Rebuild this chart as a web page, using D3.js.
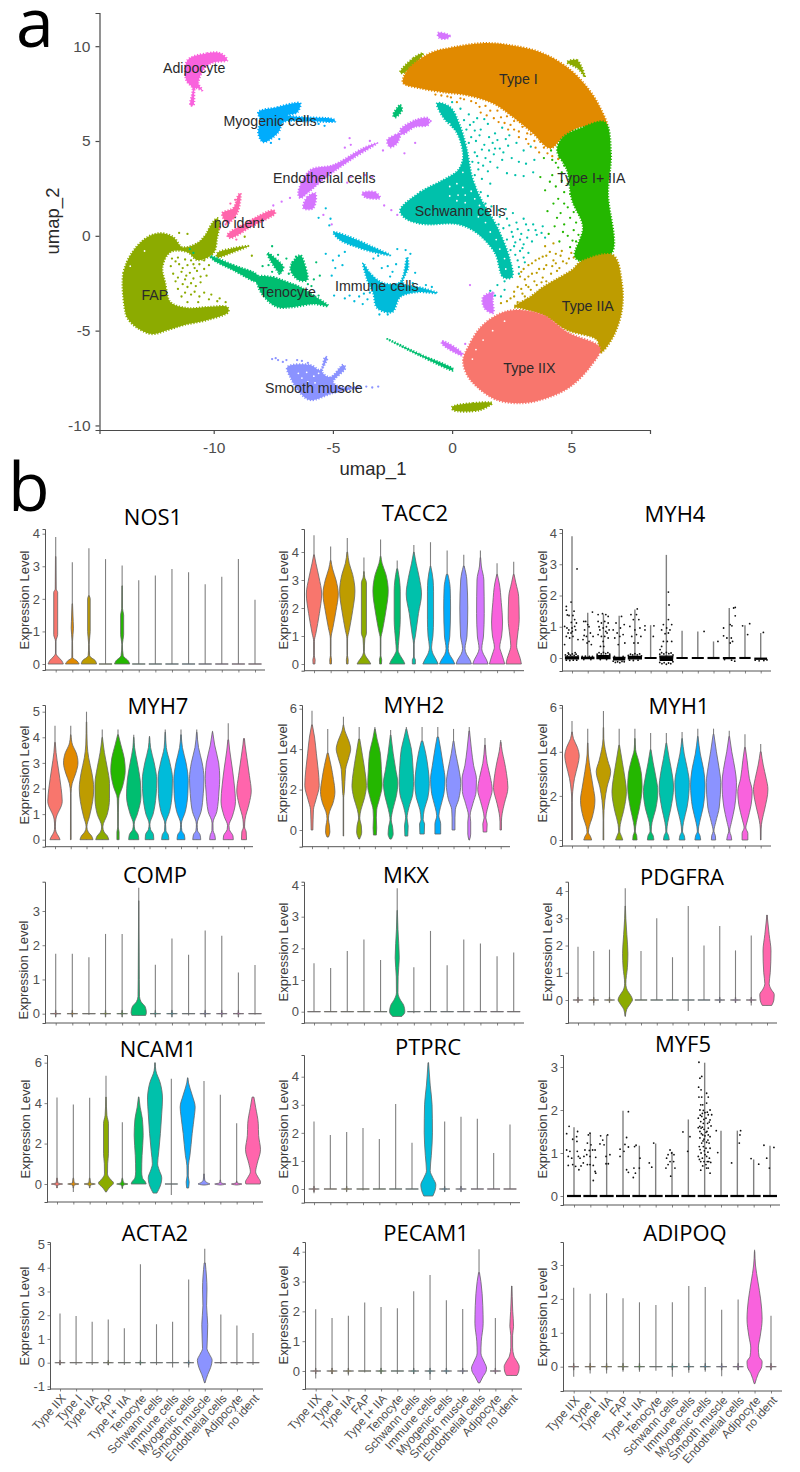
<!DOCTYPE html>
<html>
<head>
<meta charset="utf-8">
<script src="https://cdn.jsdelivr.net/npm/d3@7"></script>
<style>
  html, body { margin: 0; padding: 0; background: #fff; }
  svg { display: block; }
  text { font-family: "Liberation Sans", Arial, sans-serif; }
  .head { font-family: "Open Sans", sans-serif; fill: #000; }
</style>
</head>
<body>
<div id="chart"></div>
<script>
var cellTypes = ['Type IIX', 'Type I', 'Type IIA', 'FAP', 'Type I+ IIA', 'Tenocyte', 'Schwann cells',
  'Immune cells', 'Myogenic cells', 'Smooth muscle', 'Endothelial cells', 'Adipocyte', 'no ident'];
var cellColors = ['#F8766D', '#E18A00', '#BE9C00', '#8CAB00', '#24B700', '#00BE70', '#00C1AB',
  '#00BBDA', '#00ACFC', '#8B93FF', '#D575FE', '#F962DD', '#FF65AC'];

// umap cluster outlines, in umap units
var typeIIXShape = [[.46,-6.55],[.67,-5.87],[1.17,-4.86],[1.89,-4.18],[2.56,-3.92],[3.81,-4.18],[4.82,-5.08],[6.2,-5.92],[5.78,-6.92],[4.94,-7.97],[3.98,-8.55],[2.97,-8.82],[1.89,-8.66],[1.05,-7.97],[.63,-7.34]];
var typeIShape = [[-2.05,8.31],[-1.76,8.89],[-.92,9.63],[.04,9.94],[1.3,10.16],[2.43,10.05],[3.69,9.68],[4.82,8.89],[5.66,7.84],[6.2,6.78],[6.49,5.73],[6.08,5.68],[5.36,5.73],[4.65,5.2],[4.11,4.62],[3.39,5.41],[2.56,6.26],[1.72,6.99],[.63,7.41],[-.38,7.57],[-1.34,7.78],[-2.05,8.05]];
var typeIIAShape = [[5.36,-1.39],[6.75,-1.02],[7.12,-2.49],[7.12,-3.92],[6.75,-5.34],[6.2,-6.18],[6.08,-5.5],[4.82,-4.97],[3.81,-4.18],[2.85,-3.81],[2.6,-3.75],[3.3,-3.2],[3.83,-2.69],[4.5,-2.2],[5.08,-1.75]];
var mixedShape = [[5.49,5.73],[6.41,5.99],[6.66,4.36],[6.54,2.25],[6.7,-.91],[5.66,-1.39],[5.15,-1.12],[5.49,.46],[5.03,1.88],[4.82,3.46],[4.4,4.52],[4.65,5.2]];
var fapShape = [[-13.74,-3.76],[-13.79,-1.97],[-13.41,-.86],[-12.78,-.07],[-12.23,.14],[-11.69,-.07],[-11.31,-.6],[-10.68,-.38],[-10.35,.04],[-10.06,.67],[-9.85,.93],[-9.76,.67],[-9.85,-.07],[-10.01,-.91],[-10.68,-1.28],[-11.1,-.86],[-11.82,-.86],[-12.15,-1.65],[-12.03,-2.49],[-11.82,-3.49],[-11.1,-3.81],[-10.27,-3.76],[-9.43,-3.76],[-9.39,-4.02],[-10.27,-4.44],[-11.27,-4.71],[-11.94,-4.97],[-12.57,-5.18],[-13.2,-4.86],[-13.62,-4.34]];
var fapArm = [[-9.85,-.91],[-9.18,-.65],[-8.55,-.54],[-9.18,-.86],[-9.85,-1.12]];
var fapFoot = [[0,-9.03],[.88,-8.82],[1.68,-8.82],[1.17,-9.19],[.04,-9.19]];
var fapTopLeft = [[-2.18,8.63],[-1.63,9.37],[-1.22,9.63],[-1.47,9.16],[-2.05,8.58]];
var fapTopRight = [[4.82,9.16],[5.24,9.26],[5.57,8.37],[5.3,8.8]];
var tenocyteBody = [[-8.17,-2.18],[-7.5,-2.18],[-6.91,-2.44],[-6.37,-2.7],[-5.82,-3.13],[-5.2,-3.7],[-5.82,-3.6],[-6.66,-3.76],[-7.33,-3.76],[-7.84,-3.28],[-8.13,-2.7]];
var tenocyteTail = [[-10.14,-1.07],[-9.18,-1.54],[-8.17,-2.07],[-8.13,-2.44],[-9.18,-1.81],[-10.06,-1.23]];
var tenocyteRightArc = [[-6.37,-1.02],[-6.15,-1.65],[-6.08,-2.33],[-6.45,-2.33],[-6.79,-1.7]];
var tenocyteLeftArc = [[-7.75,-.91],[-7.08,-1.65],[-7.21,-1.96],[-7.63,-1.28]];
var tenocyteStrand = [[-2.72,-5.44],[-1.34,-6.25],[.04,-7.02],[.04,-7.1],[-1.34,-6.33]];
var tenocyteSmall = [[-2.47,6.36],[-2.18,6.89],[-2.1,6.63],[-2.39,6.25]];
var schwannShape = [[-2.18,1.35],[-1.34,2.3],[-.38,2.94],[.25,3.46],[.46,4.15],[.21,5.41],[-.38,6.26],[-.63,6.99],[-.08,6.78],[.3,5.9],[.6,4.67],[.84,3.09],[1.17,2.04],[1.89,.46],[2.43,-1.28],[2.51,-2.18],[2.14,-2.18],[1.8,-.91],[1.05,.14],[.21,.62],[-1.22,.62],[-1.97,.93]];
var immuneBody = [[-3.73,-1.44],[-3.44,-1.97],[-2.89,-2.49],[-2.18,-2.44],[-1.89,-1.12],[-1.84,-1.65],[-2.05,-2.49],[-1.22,-2.76],[-.63,-3.02],[-1.47,-2.97],[-2.18,-3.23],[-2.51,-4.02],[-3.14,-3.81],[-3.31,-3.02],[-3.56,-2.33]];
var immuneUpper = [[-4.99,.19],[-4.27,-.07],[-3.31,-.6],[-2.6,-1.02],[-3.14,-.91],[-3.98,-.6],[-4.69,-.23]];
var myogenicShape = [[-8.13,6.52],[-7.33,6.78],[-6.66,6.99],[-6.37,6.99],[-6.49,6.52],[-6.91,6.36],[-6.37,6.26],[-4.99,6.15],[-4.9,6.04],[-6.08,6.04],[-7.08,5.99],[-7.29,5.46],[-7.92,4.94],[-8.13,5.41],[-8.04,6.1]];
var smoothShape = [[-6.91,-6.92],[-5.95,-6.81],[-5.53,-7.08],[-5.32,-6.39],[-5.24,-6.45],[-5.45,-7.18],[-5.11,-7.45],[-4.57,-6.81],[-4.48,-6.97],[-4.99,-7.71],[-4.69,-7.97],[-3.85,-7.97],[-4.99,-8.29],[-5.95,-8.66],[-6.37,-8.29],[-6.79,-7.45]];
var endoBand = [[-6.45,2.3],[-5.95,3.46],[-4.99,3.73],[-3.73,4.62],[-3.14,4.89],[-4.15,4.09],[-4.99,3.36],[-5.53,2.83],[-6.03,2.3],[-6.37,1.99]];
var endoBlob = [[-6.24,1.46],[-6.08,2.04],[-5.74,2.25],[-5.82,1.46]];
var endoRight = [[-3.77,2.25],[-3.23,2.3],[-3.02,1.99],[-3.65,2.04]];
var endoUpper = [[-2.72,5.04],[-2.39,5.31],[-2.18,5.41],[-2.3,4.89],[-2.6,4.67]];
var endoNearType = [[-2.18,5.57],[-1.55,6.1],[-1,6.2],[-1,5.85],[-1.55,5.75],[-2.1,5.35]];
var endoLower = [[1.3,-3.23],[1.72,-3],[1.7,-3.4],[1.72,-4.07],[1.35,-3.8]];
var endoStrand = [[-.42,-5.55],[.42,-6.18],[.42,-6.3],[-.42,-5.7]];
var endoTop = [[-.59,10.7],[-.1,10.55],[-.2,10.4],[-.55,10.45]];
var adipoShape = [[-11.1,9.26],[-10.27,9.63],[-9.72,9.63],[-9.43,9.26],[-10.01,9.15],[-10.35,8.89],[-10.64,8.05],[-10.48,7.68],[-10.77,7.78],[-10.85,6.89],[-10.98,6.89],[-10.89,7.78],[-11.15,8.2]];
var noIdentLower = [[-9.43,.04],[-8.59,.72],[-7.5,1.35],[-7.42,1.2],[-8.46,.46],[-9.3,-.12]];
var noIdentUpper = [[-9.64,1.2],[-9.18,1.46],[-8.97,2.14],[-8.88,2.25],[-9.01,1.2],[-9.43,.67]];

// scattered cells outside the solid clusters
var schwannDots = [[.9,6],[1.2,5.6],[1.5,5.9],[1.8,5.4],[2.1,5.7],[2.4,5.3],[1,5],[1.35,4.8],[1.7,4.9],[2,4.6],[2.35,4.75],[2.7,4.9],[3,4.5],[3.3,4.7],[1.05,4.2],[1.4,4.1],[1.75,4.3],[2.1,4],[2.5,4.1],[2.8,3.9],[3.1,3.8],[3.45,4],[1.1,3.5],[1.5,3.4],[1.9,3.6],[2.3,3.3],[2.65,3.2],[3,3.15],[3.4,3.35],[1.25,3],[1.6,2.75],[1.2,2.3],[1.5,2.1],[.95,2.6],[.65,2.8],[.4,2.4],[.1,2.2],[.7,1.8],[-.1,1.6],[.35,1.5],[.9,1.4],[2,1],[2.3,.9],[2.7,.7],[3,.9],[3.4,.6],[3.8,.5],[2.15,.4],[2.5,.2],[2.9,.1],[3.2,.3],[3.55,.05],[3.9,-.1],[2.3,-.2],[2.65,-.35],[3,-.45],[3.35,-.3],[2.85,-.8],[2.45,-.75],[3.2,-.9],[2.75,-1.3],[3.05,-1.4],[2.5,-1.9],[2.8,-2],[1.9,-2.6],[2.2,-2.85],[1.6,-2.9],[2.05,-3.2],[.95,4.4],[.7,6.4],[0,7.05],[.35,6.7],
  [.6,5.6],[.8,5.2],[.7,4.9],[1.15,5.3],[.95,5.55],[1.25,4.55],[1.55,4.5],[.85,3.9],[1.1,3.85],[.95,3.2],[1.3,3.7],[1.6,3.9],[1.55,5.2],[1.9,5.05],[2.25,5.1],[1.8,4.6],[2.15,4.4],[.5,6.1],[.75,5.85],[1.05,6.2],[1.35,6.15],[1.95,1.35],[2.25,1.4],[1.65,1.55],[1.4,1.7],[2.55,1.2],[1.95,.6],[2.4,.55],[2.75,.35],[3.1,.6],[3.5,.3],[3.75,.15],[2.55,-.05],[2.85,-.2],[3.15,-.1],[2.6,-.55],[2.95,-.65],[2.65,-1],[3,-1.15],[2.45,-1.55],[2.8,-1.65],[2.2,-2.4],[1.8,-3.15]];
var goldDots = [[2.9,-1.9],[3.2,-1.55],[3.5,-1.3],[3.8,-1.1],[4.1,-.85],[3.05,-2.3],[3.35,-2],[3.65,-1.75],[3.95,-1.55],[4.25,-1.3],[4.55,-1.05],[2.75,-2.7],[3.1,-2.6],[3.45,-2.4],[3.8,-2.2],[4.15,-2],[4.5,-1.7],[4.8,-1.45],[2.6,-3.2],[2.95,-3.05],[3.3,-2.85],[2.3,-3.45],[2.75,-3.5],[3.15,-3.35],[4.6,-.8],[5,-.9],[4.25,-.4],[3.9,-.55],
  [3,-1.75],[3.35,-1.45],[3.65,-1.2],[3.95,-1.05],[4.35,-.95],[2.85,-2.15],[3.2,-2.15],[3.55,-1.95],[3.85,-1.75],[4.2,-1.6],[4.65,-1.35],[2.6,-2.95],[2.9,-2.8],[3.2,-2.7],[3.55,-2.6],[3.95,-2.4],[4.35,-1.45],[2.45,-3.3],[2.05,-3.55],[4.9,-1.2],[5.1,-1.15],[4.4,-1.85],[3.75,-2.45],[3.05,-3.2]];
var orangeDots = [[1,7],[1.4,6.85],[1.9,6.6],[2.3,6.3],[2.6,6.05],[2.95,5.75],[3.3,5.35],[3.7,4.95],[4,4.35],[.5,7.2],[1.2,6.5],[1.75,6.2],[2.2,5.95],[2.6,5.6],[3.1,5.1],[3.5,4.65],[-.2,7.35],[-.7,7.45],[4.45,4.05],[.2,7.05],
  [.8,7.1],[1.15,6.8],[1.6,6.6],[2.05,6.25],[2.45,5.85],[2.8,5.5],[3.15,5.4],[3.45,5],[3.85,4.65],[.35,7.25],[-.05,7.3],[-.45,7.4],[1.45,6.35],[1.95,6],[2.35,5.6],[2.8,5.2],[3.2,4.85],[3.65,4.4],[4.2,4.2]];
var greenDots = [[4.2,4],[4.45,3.6],[4.2,3.2],[4.6,2.9],[4.35,2.6],[4.7,2.3],[4.45,1.95],[4.85,1.5],[4.55,1.2],[4.95,.95],[4.7,.6],[5.1,.3],[4.85,0],[5.2,-.3],[4.95,-.6],[3.9,2.4],[4,1.3],[4.3,.5],[4.05,.1],[4.5,-.3],[3.7,3.1],[3.85,4.1],[4.15,4.5],
  [4.5,4.15],[4.7,3.7],[4.6,3.35],[4.85,2.75],[4.95,2.2],[4.7,1.7],[5.1,1.25],[5.2,.7],[5.3,.05],[5.05,-.25],[4.65,.2],[4.4,.95],[4.25,1.7],[4.1,2.85],[4.35,3.85]];
var fapDots = [[-11.75,-1.2],[-11.5,-1.15],[-11.2,-1.25],[-11.8,-1.6],[-11.45,-1.5],[-11.1,-1.55],[-10.85,-1.5],[-11.7,-2],[-11.35,-1.9],[-11,-1.95],[-10.7,-1.85],[-11.6,-2.4],[-11.2,-2.3],[-10.85,-2.25],[-10.55,-2.15],[-11.5,-2.8],[-11.1,-2.7],[-10.75,-2.65],[-11.35,-3.2],[-10.95,-3.1],[-10.6,-3.2],[-10.2,-3.35],[-9.85,-3.45],[-11.1,-3.5],[-10.65,-3.5],[-8.7,-.05],[-8.4,-1.05],[-11.45,.15],[-11.1,.1],
  [-11.6,-1.35],[-11.3,-1.7],[-10.95,-1.3],[-10.6,-1.5],[-11.5,-2.2],[-11.15,-2.1],[-10.8,-1.7],[-10.4,-1.75],[-11.3,-2.55],[-10.95,-2.5],[-10.55,-2.45],[-10.3,-2.1],[-11.2,-3],[-10.8,-2.95],[-10.4,-3],[-10.1,-3.1],[-9.75,-3.3],[-9.5,-3.5],[-10.4,-1.3],[-10.2,-1.55],[-10.5,-1.1]];
var tenocyteDots = [[-7.55,-.55],[-7.3,-1],[-6.95,-1.2],[-6.85,-2],[-6.55,-1.1],[-5.7,-1.4],[-5.55,-2.1],[-5.8,-2.3],[-7.95,-1.6],[-7.7,-1.55],[-11,-.7],[-10.85,-.9],[-7.6,-1],[-7.45,-1.4],[-6.7,-1.4],[-6.6,-2],[-7.25,-2],[-7.55,-1.9],[-5.9,-2.65],[-6.05,-2.55],[-5.6,-3.15]];
var immuneDots = [[-5.3,-.95],[-5,-1.3],[-4.75,-1.05],[-4.5,-.85],[-4.9,-1.7],[-5.05,-2.1],[-4.95,-3.15],[-4.5,-3.3],[-4.1,-3.45],[-3.75,-3.6],[-3.1,-1.05],[-2.7,-1.6],[-2.3,-.7],[-1.95,-.75],[-1.55,-1.95],[-5.1,.9],[-5.3,1.45],[-5.6,.95],[-5.15,.55],[-4.6,-1.55],
  [-4.3,-3.15],[-3.9,-3.2],[-3.55,-3.35],[-3.45,-3],[-2.95,-1.7],[-2.5,-1.9],[-2.35,-1.5],[-2.6,-2.15],[-1.75,-.95],[-3.3,-1.2],[-1.1,-2.6],[-.85,-2.7],[-1.65,-2.5],[-3.7,-3.05],[-3.05,-4.15],[-2.7,-4.15]];
var myogenicDots = [[-7.6,4.9],[-7.25,5.1],[-5.35,5.8],[-5.6,5.9]];
var smoothDots = [[-7.55,-6.5],[-7.3,-6.55],[-7.1,-6.65],[-7.4,-6.45],[-6.95,-6.55],[-6.3,-6.6],[-6.05,-6.7],[-6.65,-7.7],[-6.5,-6.55],[-3.6,-7.95],[-3.35,-8],[-3.1,-7.95],[-5.65,-7.6]];
var endoDots = [[-5.4,1.1],[-5.05,.6],[-7.5,1.6],[-7.15,1.8],[-6.8,2],[-4.5,4.65],[-4.3,5.15],[-4.25,4.8],[-3.65,3.2],[-3.35,3.1],[-4.25,3.1],[-3.9,2.8],[-4.4,2.8],[-2.85,1.6],[-2.55,1.35],[-2.3,1.1],[-3.45,5],[-2.9,4.5],[-1.55,4.9],[-2,4.35],[-.9,6.05],[.75,-2.6],[.55,-5.7]];
var noIdentDots = [[-9.05,-.2],[-8.85,.3],[-9.75,.4],[-9.5,.6],[-9.3,1.7],[-9.1,1.9]];
// little gaps left in the dense parts
var gapDots = [[-.1,2.6],[.2,2.75],[.45,2.55],[.25,2.15],[.55,2.15],[.8,2.35],[.55,1.75],[.95,1.95],[1.15,1.6],[.2,1.85],[-.1,2.1],
  [-.1,5.9],[.05,5.5],[-.2,5.2],[.15,5.05],[-.1,4.7],[.25,4.45],[0,4.2],[-.3,5.65],[.1,3.85],[.45,3.35],[1.1,1],[1.4,.7],[1.6,.2],[1.85,-.2],[2,-.7],[2.2,-1.2],[2.25,-1.75],
  [-6.1,-7.2],[-5.8,-7.4],[-6.3,-7.5],[-5.6,-7.25],[-6.05,-7.7],[-5.75,-7.75],[-6.45,-7.25],
  [1.3,-5.5],[1,-6],[1.7,-5],[.85,-6.5],[2.2,-4.5],
  [-13.5,-1.6],[-12.9,-.8],[-8.35,-4.5]];

// expression levels, one list per gene, order of cellTypes
var flatZero = [[-0.004,.84],[0.004,.84]];
var crossZero = [[-.1,.02],[-.01,.04],[0,.7],[.01,.04],[.1,.02]];

var nos1Top = [3.9,3.12,3.55,3.22,3.02,2.57,2.72,2.92,2.82,2.45,2.68,3.22,1.97];
var nos1Bottom = [0,0,0,0,0,0,0,0,0,0,0,0,0];
var nos1Violins = [
  [[0,1],[.1,.8],[.25,.2],[.33,.03],[.7,.03],[.9,.26],[2.2,.26],[2.3,.06],[3.3,.03]],
  [[0,.9],[.1,.6],[.2,.05],[.7,.03],[1.1,.15],[1.3,.12],[1.85,.03]],
  [[0,1],[.1,.85],[.25,.1],[.6,.03],[1,.17],[2,.17],[2.1,.03]],
  flatZero,
  [[0,1],[.1,.8],[.25,.15],[.6,.03],[.9,.2],[1.5,.2],[1.7,.05],[2.4,.03]],
  flatZero, flatZero, flatZero, flatZero, flatZero, flatZero, flatZero, flatZero
];

var tacc2Top = [4.6,4.2,4.5,3.8,4.45,3.7,4.25,4.35,4.05,3.9,4.05,3.6,3.65];
var tacc2Bottom = [0,0,0,0,0,0,0,0,0,0,0,0,0];
var tacc2Violins = [
  [[0,.12],[.15,.15],[.3,.03],[.8,.04],[1.1,.25],[1.8,.7],[2.5,1],[3.1,.65],[3.6,.25],[3.9,.04]],
  [[0,.1],[.15,.12],[.3,.03],[.9,.04],[1.3,.3],[1.9,.7],[2.5,1],[3,.7],[3.4,.25],[3.7,.04]],
  [[0,.1],[.15,.12],[.3,.03],[.9,.04],[1.2,.25],[1.9,.7],[2.6,1],[3.2,.7],[3.6,.25],[4,.04]],
  [[0,.9],[.1,.7],[.25,.3],[.45,.05],[.9,.12],[1.1,.33],[2.9,.33],[3.1,.1],[3.3,.03]],
  [[0,.12],[.15,.15],[.3,.03],[.9,.04],[1.2,.25],[1.9,.7],[2.6,1],[3.2,.7],[3.6,.2],[3.85,.04]],
  [[0,1],[.1,.85],[.3,.4],[.5,.12],[.8,.2],[1.6,.4],[2.6,.4],[3,.3],[3.4,.06]],
  [[0,.2],[.15,.2],[.25,.03],[.7,.03],[1,.2],[1.8,.6],[2.5,1],[3.1,.7],[3.6,.3],[4,.03]],
  [[0,1],[.15,.75],[.35,.35],[.6,.14],[1,.32],[1.6,.4],[2.6,.4],[3,.34],[3.5,.03]],
  [[0,1],[.15,.75],[.35,.3],[.55,.14],[1,.35],[2,.45],[2.7,.4],[3.2,.1]],
  [[0,1],[.15,.8],[.35,.35],[.55,.16],[1,.42],[2,.52],[3,.4],[3.5,.05]],
  [[0,1],[.15,.8],[.35,.4],[.55,.18],[1,.4],[1.8,.5],[3,.45],[3.5,.12],[3.8,.03]],
  [[0,1],[.15,.85],[.4,.55],[.6,.35],[1,.6],[1.5,.72],[2.2,.55],[2.9,.28],[3.2,.04]],
  [[0,1],[.2,.85],[.4,.6],[.65,.38],[1,.5],[1.6,.72],[2.4,.65],[2.9,.28],[3.2,.05]]
];

var myh4Top = [3.9,1.45,1.4,1.35,1.55,1.05,3.3,.87,.85,.53,1.6,1.05,.8];
var myh4Bottom = [0,0,0,0,0,0,0,0,0,0,0,0,0];
var myh4Violins = [
  [[-.03,.9],[.04,.9]], [[-.02,.85],[.02,.85]], [[-.02,.9],[.08,.9]], [[-.06,.75],[.02,.8]],
  [[-.03,.9],[.05,.9]], [[-.012,.75],[.012,.75]], [[-.08,.85],[.06,.9]], [[-.012,.7],[.012,.7]],
  [[-.012,.75],[.012,.75]], [[-.015,.75],[.015,.75]], [[-.02,.8],[.012,.8]], [[-.012,.7],[.015,.7]], [[-.04,.8],[-.005,.8]]
];
// [cell type index, jitter in category widths, level]
var myh4Points = [
  [0,-.36,1.65],[0,-.36,1.53],[0,-.06,1.79],[0,-.3,1.38],[0,-.19,1.36],[0,.06,1.36],[0,.13,1.5],[0,.17,1.23],[0,-.04,1.14],[0,-.47,1.01],[0,-.32,.96],[0,-.2,.9],[0,0,.96],[0,.17,1.01],[0,.28,1.12],[0,-.25,.8],[0,-.06,.8],[0,.06,.69],[0,-.15,.64],[0,-.47,.43],[0,.32,2.85],[0,.23,.9],[0,.38,.59],[0,-.36,.69],[0,.02,.85],
  [1,-.25,1.17],[1,.3,1.47],[1,0,1.07],[1,-.2,.9],[1,.17,.8],[1,-.08,.69],[1,-.3,.59],[1,.08,.53],[1,.23,.43],[1,-.13,1.17],[1,.34,.69],[1,-.04,.48],[1,-.23,.72],[1,.08,1],
  [2,-.34,1.39],[2,-.06,1.42],[2,.15,1.39],[2,.3,1.33],[2,-.34,1.17],[2,-.13,1.12],[2,.08,1.17],[2,.3,1.12],[2,-.23,.9],[2,-.02,.96],[2,.15,.85],[2,.36,.9],[2,-.34,.75],[2,-.13,.69],[2,.08,.69],[2,.23,.8],[2,-.02,.53],[2,-.19,.37],[2,.3,.64],[2,.02,.37],[2,-.28,1],[2,.19,1],
  [3,-.2,1.12],[3,.15,1.33],[3,.32,1.07],[3,-.13,.8],[3,-.38,.9],[3,.04,.69],[3,.25,.75],[3,-.28,.64],[3,.36,.48],[3,-.06,.43],[3,.08,.96],
  [4,.15,1.57],[4,-.25,1.39],[4,.1,1.39],[4,-.1,1.23],[4,.25,1.23],[4,-.32,1.01],[4,0,.9],[4,.32,.96],[4,.64,1.03],[4,-.2,.69],[4,.1,.75],[4,.38,.69],[4,-.06,.48],[4,.2,.48],[4,.64,.9],
  [5,.21,1.03],[5,.17,.69],
  [6,.13,2.11],[6,.17,1.7],[6,.13,1.23],[6,-.19,1.07],[6,.34,1.07],[6,.02,.96],[6,-.3,.9],[6,.23,.9],[6,-.08,.78],[6,.13,.8],[6,-.19,.53],[6,.06,.53],[6,.34,.53],[6,-.3,.37],[6,-.4,.27],
  [8,.4,.85],[9,.28,.53],
  [10,-.36,.96],[10,.06,1.07],[10,.17,1.03],[10,.28,1.6],[10,.38,1.62],[10,.38,1.35],[10,-.36,.71],[10,-.15,.64],[10,.13,.64],[10,.21,.53],[10,.06,.48],
  [11,-.15,1.03],[11,.3,1.1],[11,.17,.75],[12,.17,.82],
  // the ragged band around zero
  [0,-.42,.1],[0,-.3,.07],[0,-.2,.12],[0,-.1,.09],[0,.02,.13],[0,.14,.08],[0,.26,.12],[0,.38,.07],[0,-.36,-.07],[0,-.14,-.08],[0,.08,-.07],[0,.3,-.07],[0,-.24,.16],[0,.2,.17],
  [1,-.35,.05],[1,-.15,.06],[1,.1,.05],[1,.3,.05],[1,-.25,-.05],[1,.2,-.05],
  [2,-.4,.12],[2,-.28,.17],[2,-.14,.13],[2,0,.18],[2,.14,.14],[2,.28,.17],[2,.4,.12],[2,-.34,.07],[2,.34,.07],[2,-.2,-.05],[2,.2,-.05],
  [3,-.38,-.1],[3,-.24,-.14],[3,-.1,-.12],[3,.04,-.15],[3,.18,-.11],[3,.32,-.12],[3,-.3,.05],[3,.25,.05],
  [4,-.42,.08],[4,-.28,.12],[4,-.14,.1],[4,0,.14],[4,.15,.1],[4,.3,.13],[4,.42,.07],[4,-.34,-.07],[4,-.1,-.08],[4,.2,-.07],
  [6,-.42,.12],[6,-.3,.17],[6,-.16,.13],[6,0,.18],[6,.16,.14],[6,.3,.16],[6,.42,.1],[6,-.42,-.14],[6,-.28,-.18],[6,-.14,-.15],[6,0,-.2],[6,.14,-.16],[6,.28,-.18],[6,.42,-.12],
  [10,-.3,-.05],[10,.15,-.07],[10,.35,-.1],[12,-.35,-.07],[12,-.1,-.09],[12,.2,-.08],[12,.4,-.06]
];

var myh7Top = [4.45,4.45,5,4.3,4.3,4.1,4.05,4.3,4.3,4.3,4.25,4.55,3.95];
var myh7Bottom = [0,0,0,0,0,0,0,0,0,0,0,0,0];
var myh7Violins = [
  [[0,.7],[.1,.55],[.3,.15],[.5,.05],[.8,.12],[1.5,1],[2,.85],[2.8,.45],[3.4,.15],[3.8,.04]],
  [[0,.04],[.1,.04],[1.8,.03],[2.2,.2],[2.6,.7],[3,1],[3.4,.75],[3.7,.25],[4.1,.03]],
  [[0,.9],[.15,.7],[.3,.25],[.5,.05],[.9,.4],[1.5,.85],[2,1],[2.6,.75],[3.2,.3],[3.7,.1],[4.6,.03]],
  [[0,.9],[.15,.7],[.3,.25],[.5,.08],[1,.7],[1.6,1],[2.2,1],[2.8,.7],[3.4,.3],[4,.03]],
  [[0,.15],[.3,.15],[.5,.03],[1.6,.1],[2.1,.65],[2.7,1],[3.2,.85],[3.7,.4],[4.1,.05]],
  [[0,.7],[.2,.6],[.4,.15],[.6,.05],[1,.5],[1.7,1],[2.3,.9],[3,.5],[3.6,.12],[4,.03]],
  [[0,.6],[.2,.55],[.4,.15],[.6,.05],[1,.5],[1.7,.9],[2.3,1],[3,.65],[3.6,.15],[4,.03]],
  [[0,.5],[.2,.4],[.35,.1],[.6,.05],[1.1,.6],[1.8,.95],[2.4,1],[3,.65],[3.6,.15],[4.2,.03]],
  [[0,.55],[.2,.45],[.35,.12],[.6,.05],[1.1,.6],[1.8,.95],[2.3,1],[3,.7],[3.6,.2],[4.1,.03]],
  [[0,.55],[.2,.45],[.35,.12],[.6,.05],[1.1,.6],[1.8,.9],[2.4,1],[3,.75],[3.6,.25],[4.2,.03]],
  [[0,.4],[.2,.3],[.35,.08],[.65,.06],[1.1,.6],[1.9,.9],[2.4,1],[3,.85],[3.7,.3],[4.2,.03]],
  [[0,.7],[.15,.65],[.4,.15],[.55,.1],[.9,.55],[1.5,1],[2.1,.85],[2.8,.55],[3.5,.2],[3.9,.05]],
  [[0,.35],[.3,.3],[.5,.08],[.8,.15],[1.4,.7],[1.9,1],[2.5,.75],[3.2,.4],[3.7,.15],[3.95,.06]]
];

var myh2Top = [5.9,5,5.6,5.1,5.1,4.95,5.1,5.1,5.1,5,5.1,4.55,4.45];
var myh2Bottom = [0,-.35,-.3,-.45,-.25,-.45,-.3,-.2,-.2,0,-.5,-.1,0];
var myh2Violins = [
  [[0,.12],[.5,.15],[1,.2],[1.5,.55],[2.2,1],[3,.85],[3.8,.6],[4.6,.35],[5.2,.05]],
  [[-.35,.1],[-.1,.3],[.2,.25],[.55,.1],[.9,.25],[1.3,.7],[1.9,1],[2.5,.8],[3.2,.45],[3.8,.08]],
  [[-.3,.03],[1.6,.03],[1.8,.1],[3,.3],[3.6,.75],[4,1],[4.4,.75],[4.9,.2],[5.2,.03]],
  [[-.45,.05],[-.1,.35],[.2,.3],[.6,.08],[1,.25],[1.6,.75],[2.2,1],[2.9,.8],[3.7,.45],[4.5,.08]],
  [[-.25,.2],[.1,.25],[.6,.2],[1,.25],[1.5,.6],[2.2,1],[3,.9],[3.8,.75],[4.5,.3],[5,.04]],
  [[-.45,.1],[-.2,.35],[.2,.25],[.5,.08],[1,.3],[1.7,.8],[2.3,1],[3,.7],[3.8,.35],[4.7,.04]],
  [[-.3,.2],[.2,.25],[.6,.1],[1.1,.35],[1.8,.9],[2.4,1],[3.2,.9],[4,.7],[4.6,.3],[5,.05]],
  [[-.2,.3],[.3,.35],[.5,.15],[1,.3],[1.6,.8],[2.3,1],[3,.85],[3.8,.5],[4.4,.1]],
  [[-.2,.4],[.3,.4],[.7,.15],[1.1,.35],[1.8,.85],[2.5,1],[3.2,.75],[4,.4],[4.6,.1]],
  [[0,.2],[.6,.2],[1,.25],[1.5,.7],[2.3,1],[3,.75],[3.8,.3],[4.4,.05]],
  [[-.5,.03],[-.2,.2],[.4,.2],[.7,.12],[1.3,.5],[1.9,.95],[2.5,1],[3.2,.6],[4,.3],[4.9,.04]],
  [[-.1,.25],[.3,.3],[.6,.12],[1,.3],[1.4,.6],[2,1],[2.6,.75],[3.3,.3],[4.2,.05]],
  [[0,.1],[.4,.1],[.8,.2],[1.3,.5],[2.1,1],[2.8,.8],[3.4,.5],[3.9,.2],[4.35,.04]]
];

var myh1Top = [5.4,5.05,5.85,5.05,5.05,4.85,4.85,4.9,5.05,5.05,4.95,4.8,4.35];
var myh1Bottom = [0,0,0,0,0,0,0,0,0,0,0,0,0];
var myh1Violins = [
  [[0,.02],[1.7,.02],[2.2,.1],[2.8,.35],[3.4,.8],[3.8,1],[4.2,.75],[4.6,.2],[4.9,.04]],
  [[0,.55],[.15,.4],[.35,.1],[.6,.2],[1,.6],[1.8,1],[2.4,.75],[3.1,.4],[3.9,.08],[4.4,.03]],
  [[0,.05],[.9,.04],[1.8,.2],[2.4,.5],[3.1,1],[3.6,.6],[4.1,.25],[4.6,.05],[5.1,.03]],
  [[0,.5],[.15,.35],[.4,.08],[.7,.15],[1.3,.6],[2.2,1],[2.8,.8],[3.5,.45],[4.3,.05]],
  [[0,.3],[.2,.25],[.4,.05],[.8,.2],[1.4,.6],[2.4,1],[3,.9],[3.6,.5],[4.1,.1],[4.6,.03]],
  [[0,.45],[.2,.35],[.4,.08],[.8,.2],[1.4,.7],[2.2,1],[2.9,.7],[3.5,.35],[4.1,.05]],
  [[0,.4],[.2,.3],[.4,.06],[.8,.2],[1.4,.6],[2.4,1],[3,.8],[3.7,.4],[4.4,.04]],
  [[0,.4],[.2,.3],[.4,.06],[.8,.2],[1.5,.7],[2.6,1],[3.2,.75],[3.9,.3],[4.6,.03]],
  [[0,.4],[.2,.3],[.4,.06],[.8,.25],[1.5,.75],[2.5,1],[3.2,.8],[3.9,.35],[4.7,.03]],
  [[0,.3],[.2,.25],[.4,.05],[.8,.3],[1.5,.8],[2.6,1],[3.3,.75],[4,.4],[4.8,.05]],
  [[0,.35],[.2,.25],[.4,.06],[.8,.3],[1.5,.75],[2.6,1],[3.2,.8],[4,.35],[4.7,.04]],
  [[0,.4],[.3,.4],[.55,.12],[.9,.35],[1.6,.85],[2.2,1],[2.8,.6],[3.6,.3],[4.2,.05]],
  [[0,.03],[.5,.05],[.9,.2],[1.4,.55],[2.3,1],[2.8,.75],[3.4,.35],[4,.06]]
];

var compTop = [1.75,1.75,1.65,2.33,2.33,3.68,1.43,2.2,1.72,2.43,2.28,1.2,1.42];
var compBottom = [-.05,-.05,-.03,-.05,-.03,-.05,-.03,-.03,-.05,-.03,-.03,-.03,-.02];
var compViolins = [crossZero, crossZero, flatZero, crossZero, crossZero,
  [[-.05,.9],[.03,1],[.2,.85],[.35,.3],[.5,.1],[1,.07],[1.8,.05],[3.3,.01]],
  crossZero, crossZero, flatZero, crossZero, crossZero, crossZero, flatZero];

var mkxTop = [1.53,1.38,1.92,2.28,1.63,3.9,1.4,2.55,1.47,2.28,2.15,1.75,1.87];
var mkxBottom = [0,0,0,0,0,0,-.05,0,0,0,0,0,0];
var mkxViolins = [flatZero, flatZero, flatZero, flatZero, flatZero,
  [[-.15,.6],[0,1],[.2,.85],[.4,.35],[.6,.1],[1.1,.12],[1.7,.27],[2.6,.1],[3.2,.02]],
  flatZero, flatZero, flatZero, flatZero, flatZero, flatZero, flatZero];

var pdgfraTop = [1.95,1.8,1.85,4.1,1.8,3,1.57,3.45,2,2.72,1.82,2.37,3.12];
var pdgfraBottom = [-.05,-.2,-.05,-.6,0,0,0,-.4,0,-.1,-.1,-.2,-.2];
var pdgfraViolins = [crossZero, crossZero, crossZero,
  [[-.6,.02],[-.35,.2],[-.1,.8],[0,1],[.15,.8],[.35,.3],[.6,.08],[1.2,.3],[1.7,.37],[2.4,.22],[3,.08],[3.45,.02]],
  flatZero, flatZero, flatZero, flatZero, flatZero, crossZero, crossZero, crossZero,
  [[-.2,.65],[0,.95],[.2,1],[.4,.55],[.6,.3],[1,.45],[1.8,.55],[2.4,.3],[2.9,.1],[3.12,.02]]];

var ncam1Top = [4.28,3.93,4.27,5.35,3.05,4.32,6,5.2,5.25,5.1,4.42,3,4.3];
var ncam1Bottom = [-.2,-.4,-.2,-.4,-.25,0,-.45,-.55,-.2,0,0,0,0];
var ncam1Violins = [
  [[-.2,.02],[-.05,.12],[0,.75],[.05,.12],[.25,.05],[.3,.02]],
  [[-.2,.02],[-.05,.12],[0,.75],[.05,.12],[.25,.05],[.3,.02]],
  [[-.2,.02],[-.05,.12],[0,.75],[.05,.12],[.25,.05],[.3,.02]],
  [[-.4,.04],[-.2,.4],[.05,1],[.25,.55],[.5,.2],[1,.22],[1.5,.33],[3,.33],[3.4,.12],[4.3,.03]],
  [[-.2,.02],[-.05,.15],[0,.75],[.05,.2],[.25,.05],[.3,.02]],
  [[0,1],[.1,.9],[.3,.5],[.6,.4],[1.4,.45],[2.4,.6],[3.2,.5],[3.8,.2],[4.3,.03]],
  [[-.45,.25],[-.1,.7],[.3,.9],[.7,.55],[1,.35],[1.6,.5],[2.5,.72],[3.5,.9],[4.2,1],[5,.7],[5.6,.12],[6,.02]],
  flatZero,
  [[-.2,.12],[.1,.2],[.4,.08],[.9,.1],[1.4,.3],[2.5,.6],[3.4,.9],[3.8,1],[4.4,.6],[5,.12],[5.25,.02]],
  [[-.05,.15],[0,.8],[.05,.5],[.2,.1],[.5,.03]],
  [[-.05,.08],[0,.75],[.05,.1],[.2,.03]],
  [[-.05,.05],[0,.7],[.05,.08],[.15,.02]],
  [[0,.95],[.1,1],[.35,.65],[.6,.35],[1,.55],[1.7,1],[2.4,.75],[3,.7],[3.8,.35],[4.3,.12]]
];

var ptprcTop = [2.4,1.92,2.03,2.17,1.78,3.03,1.65,4.5,2.4,2.57,2.5,1.28,2.3];
var ptprcBottom = [-.15,0,0,-.05,0,0,0,-.25,-.1,0,0,0,0];
var ptprcViolins = [crossZero, flatZero, crossZero, flatZero, flatZero, flatZero, flatZero,
  [[-.25,.6],[-.05,.9],[.15,1],[.4,.6],[.65,.25],[1.2,.4],[2,.55],[3,.5],[3.7,.25],[4.5,.03]],
  crossZero, crossZero, flatZero, flatZero, flatZero];

var myf5Top = [1.6,1.45,1.42,1.98,1.17,1.22,1.03,1.78,3.1,1.52,1.52,.85,1.17];
var myf5Bottom = [0,0,0,0,0,0,0,0,0,0,0,0,0];
var myf5Violins = cellTypes.map(function() { return [[-.012,.85],[.012,.85]]; });
var myf5Points = [
  [0,-.3,1.62],[0,-.45,1.45],[0,-.08,1.32],[0,.22,1.5],[0,.16,1.38],[0,.18,1.27],[0,-.45,1.07],[0,-.25,1.04],[0,.2,1.04],[0,-.35,.92],[0,-.14,.88],[0,.27,.92],[0,.37,.88],[0,-.35,.71],[0,-.08,.73],[0,.1,.69],[0,.3,.61],[0,.43,.7],
  [1,-.12,1.42],[1,-.02,1.46],[1,-.18,1.23],[1,.04,1.19],[1,-.33,1.07],[1,-.06,1.06],[1,.14,1.07],[1,.29,1.07],[1,-.39,.92],[1,-.22,.96],[1,-.02,.92],[1,.33,.9],[1,-.18,.73],[1,-.02,.73],[1,.18,.71],[1,.29,.57],[1,.33,.53],[1,.18,.36],[1,-.43,.77],
  [2,-.37,1.4],[2,.06,1.42],[2,-.41,1.21],[2,-.16,1.19],[2,-.24,1.3],[2,.2,.96],[2,-.04,.92],[2,-.04,.75],[2,.1,.75],
  [3,.33,1.96],[3,.22,1.36],[3,.12,1.2],[3,.33,1.14],[3,-.18,1.09],[3,.06,1.04],[3,-.18,.92],[3,.22,.61],[3,.33,.55],[3,.63,.43],
  [4,-.29,1.15],[4,-.2,1.18],[4,.04,.88],[4,-.33,.65],[4,0,.65],[4,-.24,.53],
  [5,-.12,1.23],[5,-.39,.77],[5,-.24,.67],
  [6,-.12,1.07],[6,-.24,.96],[6,-.33,.88],[6,-.02,1],[6,.12,.96],[6,-.12,.8],[6,.1,.8],[6,-.24,.73],[6,-.37,.65],[6,-.08,.46],[6,.18,.65],
  [7,-.33,1.49],[7,.1,1.38],[7,-.04,1.04],
  [8,-.35,3.11],[8,-.18,2.78],[8,-.29,2.74],[8,-.37,2.53],[8,-.22,2.47],[8,.12,2.39],[8,-.35,2.3],[8,-.18,2.3],[8,.22,2.3],[8,-.24,2.12],[8,-.12,2.12],[8,.12,2.16],[8,.33,2],[8,-.29,2],[8,-.08,1.99],[8,.02,1.94],[8,.22,1.89],[8,.43,1.89],[8,-.18,1.85],[8,-.39,1.81],[8,.08,1.81],[8,.33,1.77],[8,-.24,1.73],[8,-.08,1.69],[8,.18,1.69],[8,-.39,1.59],[8,-.22,1.58],[8,-.04,1.55],[8,.22,1.58],[8,.39,1.63],[8,-.29,1.5],[8,.08,1.48],[8,-.12,1.42],[8,.22,1.42],[8,.33,1.38],[8,-.29,1.35],[8,-.04,1.32],[8,-.18,1.23],[8,.12,1.25],[8,.27,1.23],[8,-.33,1.15],[8,-.08,1.15],[8,.08,1.11],[8,.33,1.11],[8,-.22,1],[8,.02,.96],[8,-.39,.92],[8,-.14,.88],[8,.12,.92],[8,.29,.88],[8,-.24,.8],[8,-.04,.8],[8,.16,.8],[8,.37,.78],[8,-.12,.7],[8,.08,.73],[8,.22,.65],[8,-.24,.6],[8,.33,.53],[8,.12,.65],
  [8,-.14,1.92],[8,-.27,1.88],[8,.16,1.95],[8,.28,1.72],[8,-.05,1.78],[8,-.3,1.62],[8,-.14,1.6],[8,.14,1.5],[8,-.2,1.45],[8,.02,1.4],[8,-.1,1.28],[8,.2,1.3],[8,-.28,1.08],[8,-.02,1.05],[8,.2,1.02],[8,-.32,.85],[8,.25,.8],
  [9,-.29,1.52],[9,-.2,1.01],
  [10,-.35,.77],[10,.2,1.52],[10,.16,1.42],[10,.12,1.23],
  [11,-.16,.87],[11,.31,.74],
  [12,-.37,1.18],[12,-.2,.88],[12,.24,1.13],[12,-.04,.65]
];

var acta2Top = [2.07,1.97,1.73,1.82,1.45,4.15,1.62,1.73,3.5,4.8,2.03,1.57,1.25];
var acta2Bottom = [-.1,-.1,-.1,-.1,-.1,-.1,-.1,-.2,-.2,-.85,-.05,-.1,-.1];
var acta2Violins = [crossZero, flatZero, flatZero, crossZero, flatZero, crossZero, flatZero, flatZero, crossZero,
  [[-.85,.03],[-.5,.4],[-.2,.8],[.1,1],[.35,.65],[.6,.3],[1,.35],[1.6,.4],[2.4,.25],[3.1,.3],[4.2,.08]],
  flatZero, flatZero, flatZero];

var pecam1Top = [2.07,1.78,1.85,2.3,2.15,2.1,2.67,3.22,2.37,2.08,4.08,1.78,2.85];
var pecam1Bottom = [-.25,-.1,-.15,-.05,-.05,-.1,-.1,-.3,-.05,-.05,-.4,-.05,-.15];
var pecam1Violins = [crossZero, crossZero, crossZero, flatZero, crossZero, flatZero, crossZero, crossZero, crossZero, crossZero,
  [[-.4,.1],[-.2,.5],[0,.95],[.1,1],[.3,.7],[.6,.25],[1,.3],[1.6,.55],[2.2,.5],[3,.25],[3.3,.06]],
  crossZero,
  [[-.15,.7],[0,.95],[.15,1],[.3,.75],[.5,.3],[.8,.12],[1.2,.12],[1.5,.25],[2,.14],[2.5,.06],[2.85,.02]]];

var adipoqTop = [2.33,2.15,2.17,2.02,1.9,1.82,1.9,2.38,2.35,1.68,1.98,3.45,1.5];
var adipoqBottom = [-.3,-.2,-.2,-.15,-.15,-.12,-.3,-.18,-.15,-.28,-.1,-.5,-.05];
var adipoqViolins = [crossZero, crossZero, crossZero, crossZero, crossZero, flatZero, crossZero, crossZero, crossZero, crossZero, crossZero,
  [[-.5,.05],[-.2,.5],[0,.95],[.15,1],[.3,.6],[.55,.5],[.9,.75],[1.4,1],[2,.8],[2.5,.45],[3,.12],[3.4,.02]],
  crossZero];

var width = 800;
var height = 1472;

var svg = d3.select('#chart').append('svg')
    .attr('width', width)
    .attr('height', height);

svg.append('text').attr('class', 'head').attr('x', 16).attr('y', 47).attr('font-size', 68).text('a');
svg.append('text').attr('class', 'head').attr('x', 8).attr('y', 511).attr('font-size', 68).text('b');

/*
 * Panel a: umap
 */
var umapX = d3.scaleLinear().domain([-14.79, 8.3]).range([99.5, 650]);
var umapY = d3.scaleLinear().domain([-10.24, 11.75]).range([430, 13]);

var clusterLine = d3.line()
  .curve(d3.curveCatmullRomClosed.alpha(0.5))
  .x(d => umapX(d[0]))
  .y(d => umapY(d[1]));

var umapShapes = [
  [6, schwannShape], [10, endoUpper], [10, endoNearType], [10, endoTop], [5, tenocyteSmall],
  [3, fapTopLeft], [3, fapTopRight], [1, typeIShape], [4, mixedShape], [2, typeIIAShape], [0, typeIIXShape],
  [10, endoLower], [10, endoStrand], [3, fapFoot], [5, tenocyteStrand],
  [3, fapShape], [3, fapArm], [12, noIdentLower], [12, noIdentUpper],
  [5, tenocyteBody], [5, tenocyteTail], [5, tenocyteRightArc], [5, tenocyteLeftArc],
  [7, immuneBody], [7, immuneUpper], [8, myogenicShape], [9, smoothShape],
  [10, endoBand], [10, endoBlob], [10, endoRight], [11, adipoShape]
];

var umapDots = [
  [6, schwannDots], [2, goldDots], [1, orangeDots], [4, greenDots], [3, fapDots], [5, tenocyteDots],
  [7, immuneDots], [8, myogenicDots], [9, smoothDots], [10, endoDots], [12, noIdentDots]
];

var umap = svg.append('g').attr('class', 'umap');

umap.selectAll('.cluster')
  .data(umapShapes)
  .enter().append('path')
    .attr('class', 'cluster')
    .attr('d', d => clusterLine(d[1]))
    .style('fill', d => cellColors[d[0]])
    .style('stroke', d => cellColors[d[0]])
    .style('stroke-width', 2.2)
    .style('stroke-dasharray', '1.2 1.7')
    .style('stroke-linejoin', 'round');

umapDots.forEach(function(group) {
  umap.selectAll(null)
    .data(group[1])
    .enter().append('circle')
      .attr('cx', d => umapX(d[0]))
      .attr('cy', d => umapY(d[1]))
      .attr('r', 1.15)
      .style('fill', cellColors[group[0]]);
});

umap.selectAll('.gap')
  .data(gapDots)
  .enter().append('circle')
    .attr('class', 'gap')
    .attr('cx', d => umapX(d[0]))
    .attr('cy', d => umapY(d[1]))
    .attr('r', 0.9)
    .style('fill', '#fff');

var umapLabels = [
  ['Adipocyte', -10.82, 8.87], ['Myogenic cells', -7.64, 6.04], ['Endothelial cells', -5.36, 3.06],
  ['no ident', -8.94, .67], ['Schwann cells', .34, 1.32], ['Type I', 2.78, 8.26], ['Type I+ IIA', 5.84, 3.06],
  ['Type IIA', 5.69, -3.68], ['Type IIX', 3.24, -6.98], ['FAP', -12.47, -3.13], ['Tenocyte', -6.9, -2.95],
  ['Immune cells', -3.16, -2.66], ['Smooth muscle', -5.8, -8.02]
];

umap.selectAll('.cluster-label')
  .data(umapLabels)
  .enter().append('text')
    .attr('class', 'cluster-label')
    .attr('text-anchor', 'middle')
    .attr('x', d => umapX(d[1]))
    .attr('y', d => umapY(d[2]) + 5)
    .attr('font-size', 14.2)
    .style('fill', '#2a2a2a')
    .text(d => d[0]);

var umapAxisX = svg.append('g')
    .attr('transform', 'translate(0,430)')
    .call(d3.axisBottom(umapX).tickValues([-10, -5, 0, 5]).tickFormat(String).tickSizeOuter(0).tickSize(4).tickPadding(8));
var umapAxisY = svg.append('g')
    .attr('transform', 'translate(99.5,0)')
    .call(d3.axisLeft(umapY).tickValues([-10, -5, 0, 5, 10]).tickFormat(String).tickSizeOuter(0).tickSize(4).tickPadding(5));

[umapAxisX, umapAxisY].forEach(function(a) {
  a.selectAll('path, line').style('stroke', '#4a4a4a').style('stroke-width', 1.2);
  a.selectAll('text').style('fill', '#4d4d4d').style('font-size', '15.5px')
    .style('font-family', '"Liberation Sans", Arial, sans-serif');
});

svg.append('text').attr('x', 373).attr('y', 475).attr('text-anchor', 'middle')
  .attr('font-size', 18.5).style('fill', '#2a2a2a').text('umap_1');
svg.append('text').attr('transform', 'translate(59,221) rotate(-90)').attr('text-anchor', 'middle')
  .attr('font-size', 18.5).style('fill', '#2a2a2a').text('umap_2');

/*
 * Panel b: violins
 */
var genes = [
  {name: 'NOS1', top: nos1Top, bottom: nos1Bottom, violins: nos1Violins, ticks: [0,1,2,3,4]},
  {name: 'TACC2', top: tacc2Top, bottom: tacc2Bottom, violins: tacc2Violins, ticks: [0,1,2,3,4]},
  {name: 'MYH4', top: myh4Top, bottom: myh4Bottom, violins: myh4Violins, points: myh4Points, ticks: [0,1,2,3,4]},
  {name: 'MYH7', top: myh7Top, bottom: myh7Bottom, violins: myh7Violins, ticks: [0,1,2,3,4,5]},
  {name: 'MYH2', top: myh2Top, bottom: myh2Bottom, violins: myh2Violins, ticks: [0,2,4,6]},
  {name: 'MYH1', top: myh1Top, bottom: myh1Bottom, violins: myh1Violins, ticks: [0,2,4,6]},
  {name: 'COMP', top: compTop, bottom: compBottom, violins: compViolins, ticks: [0,1,2,3]},
  {name: 'MKX', top: mkxTop, bottom: mkxBottom, violins: mkxViolins, ticks: [0,1,2,3,4]},
  {name: 'PDGFRA', top: pdgfraTop, bottom: pdgfraBottom, violins: pdgfraViolins, ticks: [0,1,2,3,4]},
  {name: 'NCAM1', top: ncam1Top, bottom: ncam1Bottom, violins: ncam1Violins, ticks: [0,2,4,6]},
  {name: 'PTPRC', top: ptprcTop, bottom: ptprcBottom, violins: ptprcViolins, ticks: [0,1,2,3,4]},
  {name: 'MYF5', top: myf5Top, bottom: myf5Bottom, violins: myf5Violins, points: myf5Points, ticks: [0,1,2,3]},
  {name: 'ACTA2', top: acta2Top, bottom: acta2Bottom, violins: acta2Violins, ticks: [-1,0,1,2,3,4,5], labels: true},
  {name: 'PECAM1', top: pecam1Top, bottom: pecam1Bottom, violins: pecam1Violins, ticks: [0,1,2,3,4], labels: true},
  {name: 'ADIPOQ', top: adipoqTop, bottom: adipoqBottom, violins: adipoqViolins, ticks: [0,1,2,3], labels: true}
];

// where each panel sits on the page. y0/y1 are the pixel rows of two reference ticks
var panelBoxes = {
  NOS1:   {left: 45,  right: 265, top: 529,  bottom: 670,  first: 55.7, last: 255,   v0: 0, y0: 664,   v1: 4, y1: 533.7,  titleX: 153, titleY: 525,  labelX: 24,  labelY: 600},
  TACC2:  {left: 304, right: 524, top: 529,  bottom: 670.7, first: 314, last: 513.7, v0: 0, y0: 664,   v1: 4, y1: 552,    titleX: 415, titleY: 521,  labelX: 283, labelY: 600},
  MYH4:   {left: 562, right: 771, top: 529,  bottom: 671,  first: 572,  last: 760.7, v0: 0, y0: 658,   v1: 4, y1: 533,    titleX: 675, titleY: 522,  labelX: 542, labelY: 600},
  MYH7:   {left: 45,  right: 253, top: 705,  bottom: 846.7, first: 55,  last: 244,   v0: 0, y0: 839.7, v1: 5, y1: 711.7,  titleX: 158, titleY: 714,  labelX: 24,  labelY: 775},
  MYH2:   {left: 302, right: 510, top: 705,  bottom: 846.7, first: 312, last: 500.7, v0: 0, y0: 830,   v1: 6, y1: 708.7,  titleX: 414, titleY: 713,  labelX: 282, labelY: 773},
  MYH1:   {left: 562, right: 771, top: 705,  bottom: 846,  first: 572,  last: 760.7, v0: 0, y0: 840,   v1: 6, y1: 707.7,  titleX: 679, titleY: 714,  labelX: 542, labelY: 773},
  COMP:   {left: 45,  right: 265, top: 881.7, bottom: 1023, first: 55.7, last: 255,  v0: 0, y0: 1013.7, v1: 3, y1: 911,   titleX: 155, titleY: 883,  labelX: 23,  labelY: 970},
  MKX:    {left: 304, right: 524, top: 881.7, bottom: 1023, first: 314, last: 513.7, v0: 0, y0: 1011.7, v1: 4, y1: 885,   titleX: 406, titleY: 883,  labelX: 283, labelY: 952},
  PDGFRA: {left: 568, right: 777, top: 881.7, bottom: 1023, first: 578, last: 767,   v0: 0, y0: 1000,  v1: 4, y1: 891,    titleX: 682, titleY: 885,  labelX: 547, labelY: 952},
  NCAM1:  {left: 47,  right: 263, top: 1055, bottom: 1202, first: 57,   last: 253,   v0: 0, y0: 1184,  v1: 6, y1: 1062.7, titleX: 158, titleY: 1057, labelX: 25,  labelY: 1129},
  PTPRC:  {left: 304, right: 520, top: 1055, bottom: 1202.7, first: 314, last: 510,  v0: 0, y0: 1189,  v1: 4, y1: 1076.7, titleX: 428, titleY: 1055, labelX: 283, labelY: 1129},
  MYF5:   {left: 563, right: 780, top: 1055, bottom: 1205, first: 574,  last: 770,   v0: 0, y0: 1196,  v1: 3, y1: 1067,   titleX: 683, titleY: 1052, labelX: 542, labelY: 1129},
  ACTA2:  {left: 50,  right: 263, top: 1242, bottom: 1389, first: 60,   last: 253,   v0: 0, y0: 1362.7, v1: 5, y1: 1244,  titleX: 155, titleY: 1241, labelX: 24,  labelY: 1316},
  PECAM1: {left: 305, right: 522, top: 1242, bottom: 1389, first: 315.7, last: 511.7, v0: 0, y0: 1371, v1: 4, y1: 1251.7, titleX: 426, titleY: 1241, labelX: 283, labelY: 1315},
  ADIPOQ: {left: 563, right: 782, top: 1242, bottom: 1391, first: 573.7, last: 771,  v0: 0, y0: 1366.7, v1: 3, y1: 1265, titleX: 685, titleY: 1241, labelX: 542, labelY: 1317}
};

genes.forEach(drawGene);

function drawGene(gene) {
  var box = panelBoxes[gene.name];

  var x = d3.scalePoint().domain(cellTypes).range([box.first, box.last]);
  var y = d3.scaleLinear().domain([box.v0, box.v1]).range([box.y0, box.y1]);
  y.domain([y.invert(box.bottom), y.invert(box.top)]).range([box.bottom, box.top]);

  var halfWidth = d3.scaleLinear().domain([0, 1]).range([0, x.step() * 0.46]);

  var g = svg.append('g').attr('class', 'gene ' + gene.name);

  // thin line out to the furthest cell
  g.selectAll('.spike')
    .data(cellTypes)
    .enter().append('line')
      .attr('class', 'spike')
      .attr('x1', d => x(d))
      .attr('x2', d => x(d))
      .attr('y1', (d, i) => y(gene.top[i]))
      .attr('y2', (d, i) => y(gene.bottom[i]))
      .style('stroke', '#808080')
      .style('stroke-width', gene.points ? 1.4 : 1.1);

  g.selectAll('.violin')
    .data(cellTypes)
    .enter().append('path')
      .attr('class', 'violin')
      .attr('d', function(d, i) {
        var area = d3.area()
          .curve(d3.curveMonotoneY)
          .y(p => y(p[0]))
          .x0(p => x(d) - halfWidth(p[1]))
          .x1(p => x(d) + halfWidth(p[1]));
        return area(gene.violins[i]);
      })
      .style('fill', (d, i) => gene.points ? '#000' : cellColors[i])
      .style('stroke', gene.points ? '#000' : '#666')
      .style('stroke-width', gene.points ? 1.2 : 0.8);

  if (gene.points) {
    g.selectAll('.cell')
      .data(gene.points)
      .enter().append('circle')
        .attr('class', 'cell')
        .attr('cx', d => x(cellTypes[d[0]]) + d[1] * x.step())
        .attr('cy', d => y(d[2]))
        .attr('r', 0.9)
        .style('fill', '#111');
  }

  var axisY = g.append('g')
      .attr('transform', `translate(${box.left}, 0)`)
      .call(d3.axisLeft(y).tickValues(gene.ticks).tickFormat(String).tickSizeOuter(0).tickSize(2.5).tickPadding(2.5));

  var axisX = g.append('g')
      .attr('transform', `translate(0, ${box.bottom})`)
      .call(d3.axisBottom(x).tickSize(2.5).tickSizeOuter(0).tickFormat(d => gene.labels ? d : ''));
  axisX.select('.domain').remove();

  g.append('line')
    .attr('x1', box.left).attr('x2', box.right)
    .attr('y1', box.bottom).attr('y2', box.bottom)
    .style('stroke', '#555').style('stroke-width', 1);

  axisY.select('.domain').style('stroke', '#555').style('stroke-width', 1);
  g.selectAll('.tick line').style('stroke', '#666').style('stroke-width', 0.8);

  axisY.selectAll('text')
    .style('fill', '#505050')
    .style('font-size', '13px')
    .style('font-family', '"Liberation Sans", Arial, sans-serif');

  if (gene.labels) {
    axisX.selectAll('text')
      .attr('text-anchor', 'end')
      .attr('transform', 'translate(3, 7) rotate(-48)')
      .attr('x', 0).attr('y', 0).attr('dy', '.35em')
      .style('fill', '#4d4d4d')
      .style('font-size', '11.8px')
      .style('font-family', '"Liberation Sans", Arial, sans-serif');
  }

  g.append('text')
    .attr('class', 'head')
    .attr('x', box.titleX)
    .attr('y', box.titleY)
    .attr('text-anchor', 'middle')
    .attr('font-size', 22)
    .text(gene.name);

  g.append('text')
    .attr('transform', `translate(${box.labelX + 4.5}, ${box.labelY}) rotate(-90)`)
    .attr('text-anchor', 'middle')
    .attr('font-size', 13)
    .style('fill', '#3a3a3a')
    .text('Expression Level');
}
</script>
</body>
</html>
